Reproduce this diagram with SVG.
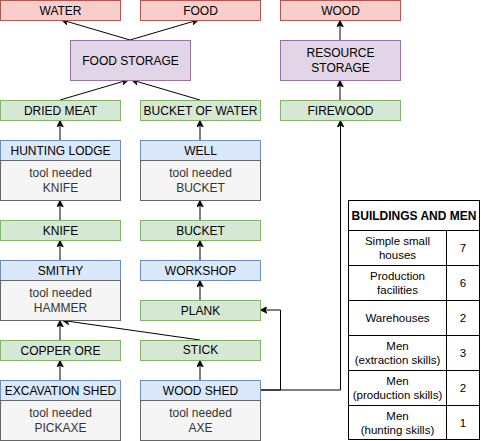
<svg xmlns="http://www.w3.org/2000/svg" width="481" height="441" viewBox="0 0 481 441">
<style>
text{font-family:"Liberation Sans",Arial,sans-serif;font-size:12px;fill:#000;text-anchor:middle;dominant-baseline:central}
.red{fill:#f8cecc;stroke:#b85450}
.pur{fill:#e1d5e7;stroke:#9673a6}
.grn{fill:#d5e8d4;stroke:#82b366}
.blu{fill:#dae8fc;stroke:#6c8ebf}
.bod{fill:#f5f5f5;stroke:#666666}
.bod2{fill:#333333}
.e{fill:none;stroke:#000;stroke-width:1;marker-end:url(#a)}
.t{fill:#fff;stroke:#000}
.tl{stroke:#000;fill:none}
.tt{font-size:11.5px}
.th{font-weight:bold;font-size:12px}
</style>
<defs>
<marker id="a" viewBox="0 0 10 10" refX="9" refY="5" markerWidth="7" markerHeight="7" orient="auto" markerUnits="userSpaceOnUse">
<path d="M0,0 L10,5 L0,10 L3,5 Z" fill="#000" stroke="#000"/>
</marker>
</defs>
<g id="edges">
<path class="e" d="M130,40 L62,20"/>
<path class="e" d="M130,40 L198,20"/>
<path class="e" d="M60,100 L128,80"/>
<path class="e" d="M200,100 L132,80"/>
<path class="e" d="M340,40 L340,21"/>
<path class="e" d="M340,100 L340,81"/>
<path class="e" d="M60,140 L60,121"/>
<path class="e" d="M200,140 L200,121"/>
<path class="e" d="M60,220 L60,201"/>
<path class="e" d="M200,220 L200,201"/>
<path class="e" d="M60,260 L60,241"/>
<path class="e" d="M200,260 L200,241"/>
<path class="e" d="M200,300 L200,281"/>
<path class="e" d="M200,340 L63,320.5"/>
<path class="e" d="M60,340 L60,321"/>
<path class="e" d="M60,380 L60,361"/>
<path class="e" d="M200,380 L200,361"/>
<path class="e" d="M260,390 L280.5,390 L280.5,310 L261,310"/>
<path class="e" d="M260,390 L340.5,390 L340.5,121"/>
</g>
<g id="water"><rect class="red" x="0.5" y="0.5" width="120" height="20"/><text x="60.5" y="10.5">WATER</text></g>
<g id="food"><rect class="red" x="140.5" y="0.5" width="120" height="20"/><text x="200.5" y="10.5">FOOD</text></g>
<g id="wood"><rect class="red" x="280.5" y="0.5" width="120" height="20"/><text x="340.5" y="10.5">WOOD</text></g>
<g id="foodstorage"><rect class="pur" x="70.5" y="40.5" width="120" height="40"/><text x="130.5" y="60.5">FOOD STORAGE</text></g>
<g id="resourcestorage"><rect class="pur" x="280.5" y="40.5" width="120" height="40"/><text x="340.5" y="53">RESOURCE</text><text x="340.5" y="68">STORAGE</text></g>
<g id="driedmeat"><rect class="grn" x="0.5" y="100.5" width="120" height="20"/><text x="60.5" y="110.5">DRIED MEAT</text></g>
<g id="bucketofwater"><rect class="grn" x="140.5" y="100.5" width="120" height="20"/><text x="200.5" y="110.5">BUCKET OF WATER</text></g>
<g id="firewood"><rect class="grn" x="280.5" y="100.5" width="120" height="20"/><text x="340.5" y="110.5">FIREWOOD</text></g>
<g id="huntinglodge"><rect class="blu" x="0.5" y="140.5" width="120" height="20"/><text x="60.5" y="150.5">HUNTING LODGE</text><rect class="bod" x="0.5" y="160.5" width="120" height="40"/><text class="bod2" x="60.5" y="173">tool needed</text><text class="bod2" x="60.5" y="188">KNIFE</text></g>
<g id="well"><rect class="blu" x="140.5" y="140.5" width="120" height="20"/><text x="200.5" y="150.5">WELL</text><rect class="bod" x="140.5" y="160.5" width="120" height="40"/><text class="bod2" x="200.5" y="173">tool needed</text><text class="bod2" x="200.5" y="188">BUCKET</text></g>
<g id="knife"><rect class="grn" x="0.5" y="220.5" width="120" height="20"/><text x="60.5" y="230.5">KNIFE</text></g>
<g id="bucket"><rect class="grn" x="140.5" y="220.5" width="120" height="20"/><text x="200.5" y="230.5">BUCKET</text></g>
<g id="smithy"><rect class="blu" x="0.5" y="260.5" width="120" height="20"/><text x="60.5" y="270.5">SMITHY</text><rect class="bod" x="0.5" y="280.5" width="120" height="40"/><text class="bod2" x="60.5" y="293">tool needed</text><text class="bod2" x="60.5" y="308">HAMMER</text></g>
<g id="workshop"><rect class="blu" x="140.5" y="260.5" width="120" height="20"/><text x="200.5" y="270.5">WORKSHOP</text></g>
<g id="plank"><rect class="grn" x="140.5" y="300.5" width="120" height="20"/><text x="200.5" y="310.5">PLANK</text></g>
<g id="copperore"><rect class="grn" x="0.5" y="340.5" width="120" height="20"/><text x="60.5" y="350.5">COPPER ORE</text></g>
<g id="stick"><rect class="grn" x="140.5" y="340.5" width="120" height="20"/><text x="200.5" y="350">STICK</text></g>
<g id="excavationshed"><rect class="blu" x="0.5" y="380.5" width="120" height="20"/><text x="60.5" y="390.5">EXCAVATION SHED</text><rect class="bod" x="0.5" y="400.5" width="120" height="40"/><text class="bod2" x="60.5" y="413">tool needed</text><text class="bod2" x="60.5" y="428">PICKAXE</text></g>
<g id="woodshed"><rect class="blu" x="140.5" y="380.5" width="120" height="20"/><text x="200.5" y="390.5">WOOD SHED</text><rect class="bod" x="140.5" y="400.5" width="120" height="40"/><text class="bod2" x="200.5" y="413">tool needed</text><text class="bod2" x="200.5" y="428">AXE</text></g>
<g id="table">
<rect class="t" x="348.5" y="200.5" width="131" height="239"/>
<path class="tl" d="M348.5,230.5 H479.5 M348.5,265.5 H479.5 M348.5,300.5 H479.5 M348.5,335.5 H479.5 M348.5,370.5 H479.5 M348.5,405.5 H479.5 M446.5,230.5 V439.5"/>
<text class="th" x="414" y="215.5">BUILDINGS AND MEN</text>
<text class="tt" x="397.5" y="241">Simple small</text><text class="tt" x="397.5" y="255">houses</text><text class="tt" x="463" y="248">7</text>
<text class="tt" x="397.5" y="276">Production</text><text class="tt" x="397.5" y="290">facilities</text><text class="tt" x="463" y="283">6</text>
<text class="tt" x="397.5" y="318">Warehouses</text><text class="tt" x="463" y="318">2</text>
<text class="tt" x="397.5" y="346">Men</text><text class="tt" x="397.5" y="360">(extraction skills)</text><text class="tt" x="463" y="353">3</text>
<text class="tt" x="397.5" y="381">Men</text><text class="tt" x="397.5" y="395">(production skills)</text><text class="tt" x="463" y="388">2</text>
<text class="tt" x="397.5" y="416">Men</text><text class="tt" x="397.5" y="430">(hunting skills)</text><text class="tt" x="463" y="423">1</text>
</g>
</svg>
